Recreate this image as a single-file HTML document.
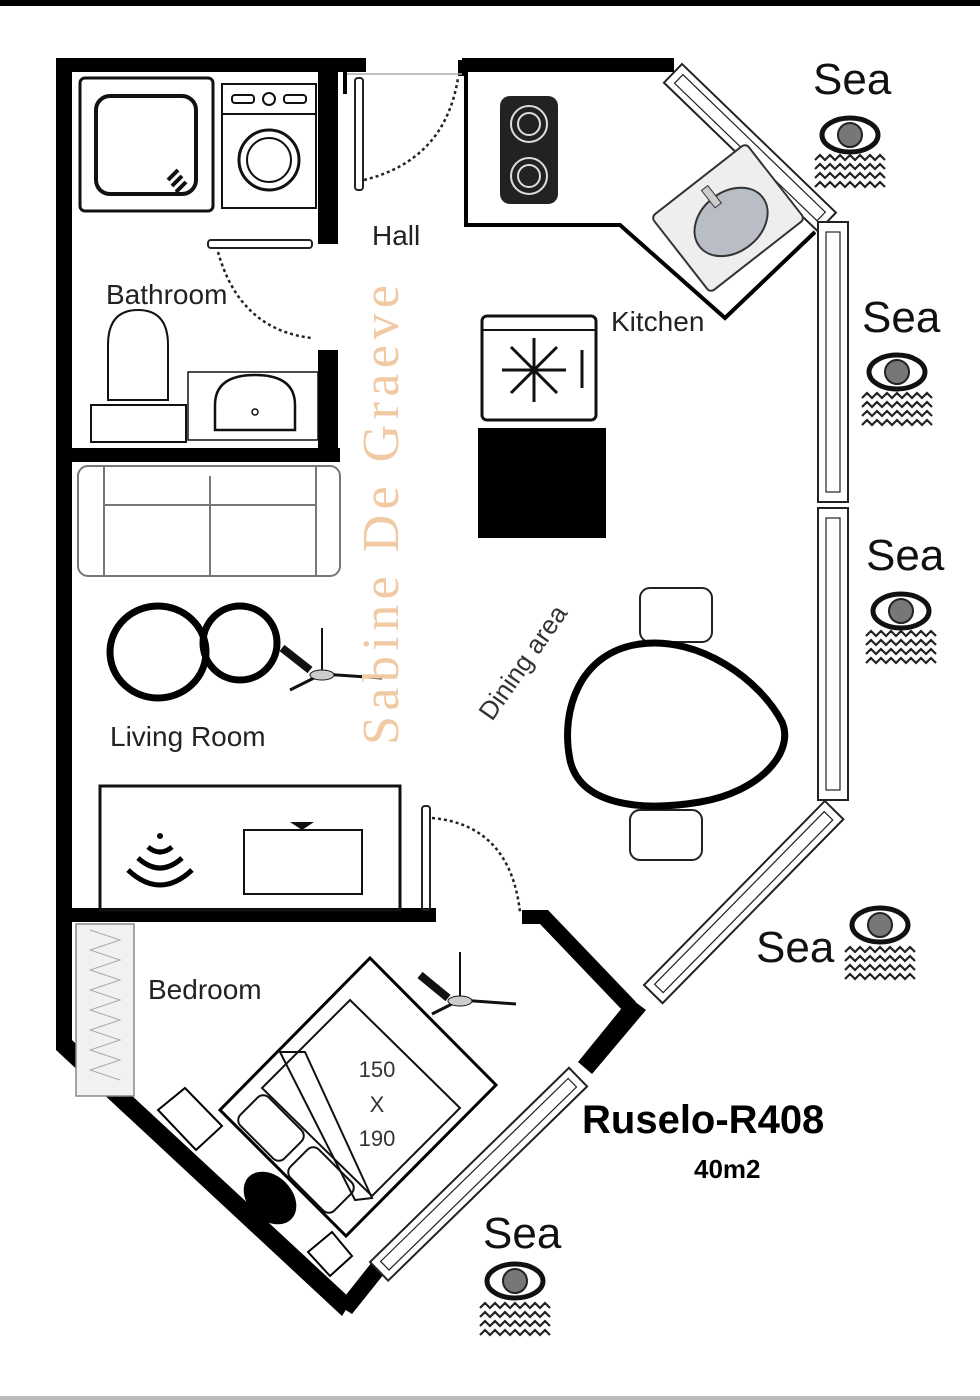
<!DOCTYPE html>
<html><head><meta charset="utf-8"><style>
html,body{margin:0;padding:0;background:#fff}
svg{display:block}
text{font-family:"Liberation Sans",sans-serif}
text.serif{font-family:"Liberation Serif",serif}
</style></head><body>
<svg width="980" height="1400" viewBox="0 0 980 1400" xmlns="http://www.w3.org/2000/svg">
<defs>
<g id="eye">
<ellipse cx="0" cy="0" rx="28" ry="17" fill="#fff" stroke="#111" stroke-width="5"/>
<circle cx="0" cy="0" r="12" fill="#777" stroke="#222" stroke-width="2"/>
</g>
<g id="waves" fill="none" stroke="#222" stroke-width="2.2">
<path d="M0 0 l5 -5 l5 5 l5 -5 l5 5 l5 -5 l5 5 l5 -5 l5 5 l5 -5 l5 5 l5 -5 l5 5 l5 -5 l5 5"/>
<path d="M0 9 l5 -5 l5 5 l5 -5 l5 5 l5 -5 l5 5 l5 -5 l5 5 l5 -5 l5 5 l5 -5 l5 5 l5 -5 l5 5"/>
<path d="M0 18 l5 -5 l5 5 l5 -5 l5 5 l5 -5 l5 5 l5 -5 l5 5 l5 -5 l5 5 l5 -5 l5 5 l5 -5 l5 5"/>
<path d="M0 27 l5 -5 l5 5 l5 -5 l5 5 l5 -5 l5 5 l5 -5 l5 5 l5 -5 l5 5 l5 -5 l5 5 l5 -5 l5 5"/>
</g>
</defs>
<rect x="0" y="0" width="980" height="6" fill="#000"/>
<rect x="0" y="1396" width="980" height="4" fill="#bbb"/>

<g fill="#000">
<rect x="58" y="58" width="308" height="14"/>
<rect x="56" y="58" width="16" height="988"/>
<rect x="462" y="58" width="212" height="14"/>
<polygon points="56,1040 72,1040 352,1300 342,1316 56,1050"/>
<polygon points="338,1305 372,1262 384,1274 352,1314"/>
<polygon points="578,1062 630,998 646,1010 592,1074"/>
<rect x="318" y="72" width="20" height="172"/>
<rect x="318" y="350" width="20" height="110"/>
<rect x="62" y="448" width="278" height="14"/>
<rect x="62" y="908" width="374" height="14"/>
<polygon points="522,910 548,910 636,1002 624,1012 540,924 522,924"/>
<rect x="343" y="72" width="4" height="22"/>
<rect x="458" y="60" width="8" height="16"/>
</g>
<line x1="347" y1="74" x2="462" y2="74" stroke="#aaa" stroke-width="1.5"/>

<g fill="#fff" stroke="#222" stroke-width="2">
<g transform="translate(682,64) rotate(44)"><rect x="0" y="0" width="214" height="26"/><rect x="8" y="7" width="198" height="12" fill="none" stroke-width="1.2"/></g>
<rect x="818" y="222" width="30" height="280"/><rect x="826" y="232" width="14" height="260" fill="none" stroke-width="1.2"/>
<rect x="818" y="508" width="30" height="292"/><rect x="826" y="518" width="14" height="272" fill="none" stroke-width="1.2"/>
<g transform="translate(644,985) rotate(-45.5)"><rect x="0" y="0" width="258" height="26"/><rect x="8" y="7" width="242" height="12" fill="none" stroke-width="1.2"/></g>
<g transform="translate(370,1262) rotate(-44.3)"><rect x="0" y="0" width="278" height="26"/><rect x="8" y="7" width="262" height="12" fill="none" stroke-width="1.2"/></g>
</g>

<g fill="none" stroke="#222">
<rect x="355" y="78" width="8" height="112" rx="3" stroke-width="2"/>
<path d="M364 180 Q445 160 458 78" stroke-dasharray="3 3" stroke-width="2.5"/>
<rect x="208" y="240" width="104" height="8" rx="3" stroke-width="2"/>
<path d="M218 252 Q240 330 312 338" stroke-dasharray="3 3" stroke-width="2.5"/>
<rect x="422" y="806" width="8" height="104" rx="3" stroke-width="2"/>
<path d="M432 818 Q510 825 520 912" stroke-dasharray="3 3" stroke-width="2.5"/>
</g>

<g fill="none" stroke="#111">
<rect x="80" y="78" width="133" height="133" rx="5" stroke-width="3"/>
<rect x="96" y="96" width="100" height="98" rx="14" stroke-width="4"/>
<path d="M168 180 l10 -10 M172 186 l10 -10 M176 192 l10 -10" stroke-width="4"/>
<rect x="222" y="84" width="94" height="124" stroke-width="2"/>
<rect x="222" y="84" width="94" height="30" stroke-width="2"/>
<circle cx="269" cy="99" r="6" stroke-width="2"/>
<rect x="232" y="95" width="22" height="8" rx="3" stroke-width="2"/><rect x="284" y="95" width="22" height="8" rx="3" stroke-width="2"/>
<circle cx="269" cy="160" r="30" stroke-width="3"/><circle cx="269" cy="160" r="22" stroke-width="2"/>
<path d="M91 405 L186 405 L186 442 L91 442 Z" stroke-width="2"/>
<path d="M108 400 L108 345 Q108 310 138 310 Q168 310 168 345 L168 400 Z" stroke-width="2"/>
<rect x="188" y="372" width="130" height="68" stroke-width="1.5"/>
<path d="M215 430 L215 405 Q215 375 255 375 Q295 375 295 405 L295 430 Z" stroke-width="2.5"/>
<circle cx="255" cy="412" r="3" stroke-width="1.5"/>
</g>

<polyline points="466,72 466,225 620,225 725,318 815,232" fill="none" stroke="#000" stroke-width="4"/>
<rect x="500" y="96" width="58" height="108" rx="10" fill="#222"/>
<g fill="none" stroke="#ddd" stroke-width="2"><circle cx="529" cy="124" r="18"/><circle cx="529" cy="124" r="11"/><circle cx="529" cy="176" r="18"/><circle cx="529" cy="176" r="11"/></g>
<g transform="translate(728,218) rotate(-38)"><rect x="-60" y="-48" width="120" height="96" rx="5" fill="#eee" stroke="#333" stroke-width="2"/><ellipse cx="0" cy="5" rx="40" ry="30" fill="#b8bdc6" stroke="#333" stroke-width="2"/><rect x="-4" y="-38" width="8" height="22" fill="#ccc" stroke="#333"/></g>
<rect x="482" y="316" width="114" height="104" rx="5" fill="#fff" stroke="#111" stroke-width="3"/>
<line x1="482" y1="330" x2="596" y2="330" stroke="#111" stroke-width="2"/>
<line x1="582" y1="350" x2="582" y2="388" stroke="#111" stroke-width="3"/>
<g stroke="#111" stroke-width="3"><line x1="502" y1="370" x2="566" y2="370"/><line x1="534" y1="338" x2="534" y2="402"/><line x1="511" y1="347" x2="557" y2="393"/><line x1="557" y1="347" x2="511" y2="393"/></g>
<rect x="478" y="428" width="128" height="110" fill="#000"/>

<g fill="none" stroke="#777" stroke-width="2">
<rect x="78" y="466" width="262" height="110" rx="10"/>
<rect x="104" y="466" width="212" height="110"/>
<line x1="210" y1="476" x2="210" y2="576"/>
<path d="M104 505 L316 505"/>
</g>
<ellipse cx="158" cy="652" rx="48" ry="46" fill="none" stroke="#000" stroke-width="7"/>
<ellipse cx="240" cy="643" rx="37" ry="37" fill="none" stroke="#000" stroke-width="7"/>
<g stroke="#111"><line x1="322" y1="628" x2="322" y2="672" stroke-width="2"/><line x1="282" y1="648" x2="310" y2="670" stroke-width="8"/><line x1="322" y1="674" x2="382" y2="678" stroke-width="3"/><line x1="318" y1="676" x2="290" y2="690" stroke-width="3"/><ellipse cx="322" cy="675" rx="12" ry="5" fill="#ccc"/></g>
<rect x="100" y="786" width="300" height="124" fill="none" stroke="#111" stroke-width="3"/>
<rect x="244" y="830" width="118" height="64" fill="none" stroke="#111" stroke-width="2"/>
<path d="M290 822 h24 l-12 8 z" fill="#111"/>
<g fill="none" stroke="#000" stroke-width="5"><path d="M128 870 Q160 900 192 870"/><path d="M138 858 Q160 878 182 858"/><path d="M148 847 Q160 857 172 847"/></g>
<circle cx="160" cy="836" r="3" fill="#000"/>

<g fill="#fff" stroke="#222" stroke-width="2"><rect x="640" y="588" width="72" height="54" rx="10"/><rect x="630" y="810" width="72" height="50" rx="10"/></g>
<path d="M640 644 C700 636 760 680 782 722 C795 752 760 792 700 802 C640 812 580 805 570 760 C560 710 580 652 640 644 Z" fill="#fff" stroke="#000" stroke-width="7"/>

<rect x="76" y="924" width="58" height="172" fill="#f1f1f1" stroke="#888" stroke-width="1.5"/>
<path d="M90 930 l30 10 l-30 10 l30 10 l-30 10 l30 10 l-30 10 l30 10 l-30 10 l30 10 l-30 10 l30 10 l-30 10 l30 10 l-30 10 l30 10" fill="none" stroke="#aaa" stroke-width="1"/>
<polygon points="370,958 496,1085 346,1236 220,1110" fill="#fff" stroke="#000" stroke-width="3"/>
<polygon points="350,1000 460,1108 372,1196 262,1088" fill="none" stroke="#111" stroke-width="2"/>
<polygon points="280,1052 305,1052 372,1198 355,1200" fill="none" stroke="#111" stroke-width="2"/>
<g fill="none" stroke="#111" stroke-width="2"><rect x="240" y="1108" width="62" height="40" rx="8" transform="rotate(45 271 1128)"/><rect x="290" y="1160" width="62" height="40" rx="8" transform="rotate(45 321 1180)"/></g>
<polygon points="158,1110 185,1088 222,1126 196,1150" fill="#fff" stroke="#000" stroke-width="2"/>
<polygon points="308,1252 332,1232 352,1256 330,1276" fill="#fff" stroke="#000" stroke-width="2"/>
<ellipse cx="270" cy="1198" rx="30" ry="22" transform="rotate(45 270 1198)" fill="#000"/>
<g stroke="#111"><line x1="460" y1="952" x2="460" y2="1000" stroke-width="2"/><line x1="420" y1="975" x2="448" y2="998" stroke-width="8"/><line x1="460" y1="1000" x2="516" y2="1004" stroke-width="3"/><line x1="456" y1="1002" x2="432" y2="1014" stroke-width="3"/><ellipse cx="460" cy="1001" rx="12" ry="5" fill="#ccc"/></g>

<g fill="#222" font-size="28">
<text x="372" y="245">Hall</text>
<text x="106" y="304">Bathroom</text>
<text x="611" y="331">Kitchen</text>
<text x="110" y="746">Living Room</text>
<text x="148" y="999">Bedroom</text>
</g>
<text x="0" y="0" font-size="26" fill="#333" transform="translate(492,722) rotate(-55)">Dining area</text>
<text class="serif" x="0" y="0" font-size="52" fill="#f1c9a3" transform="translate(398,745) rotate(-90)" textLength="460">Sabine De Graeve</text>
<g fill="#333" font-size="22" text-anchor="middle"><text x="377" y="1077">150</text><text x="377" y="1112">X</text><text x="377" y="1146">190</text></g>
<text x="582" y="1133" font-size="40" font-weight="bold" fill="#000">Ruselo-R408</text>
<text x="694" y="1178" font-size="26" font-weight="bold" fill="#000">40m2</text>

<g font-size="44" fill="#111">
<text x="813" y="94">Sea</text>
<text x="862" y="332">Sea</text>
<text x="866" y="570">Sea</text>
<text x="756" y="962">Sea</text>
<text x="483" y="1248">Sea</text>
</g>
<use href="#eye" x="850" y="135"/><use href="#waves" x="815" y="160"/>
<use href="#eye" x="897" y="372"/><use href="#waves" x="862" y="398"/>
<use href="#eye" x="901" y="611"/><use href="#waves" x="866" y="636"/>
<use href="#eye" x="880" y="925"/><use href="#waves" x="845" y="952"/>
<use href="#eye" x="515" y="1281"/><use href="#waves" x="480" y="1308"/>
</svg>
</body></html>
